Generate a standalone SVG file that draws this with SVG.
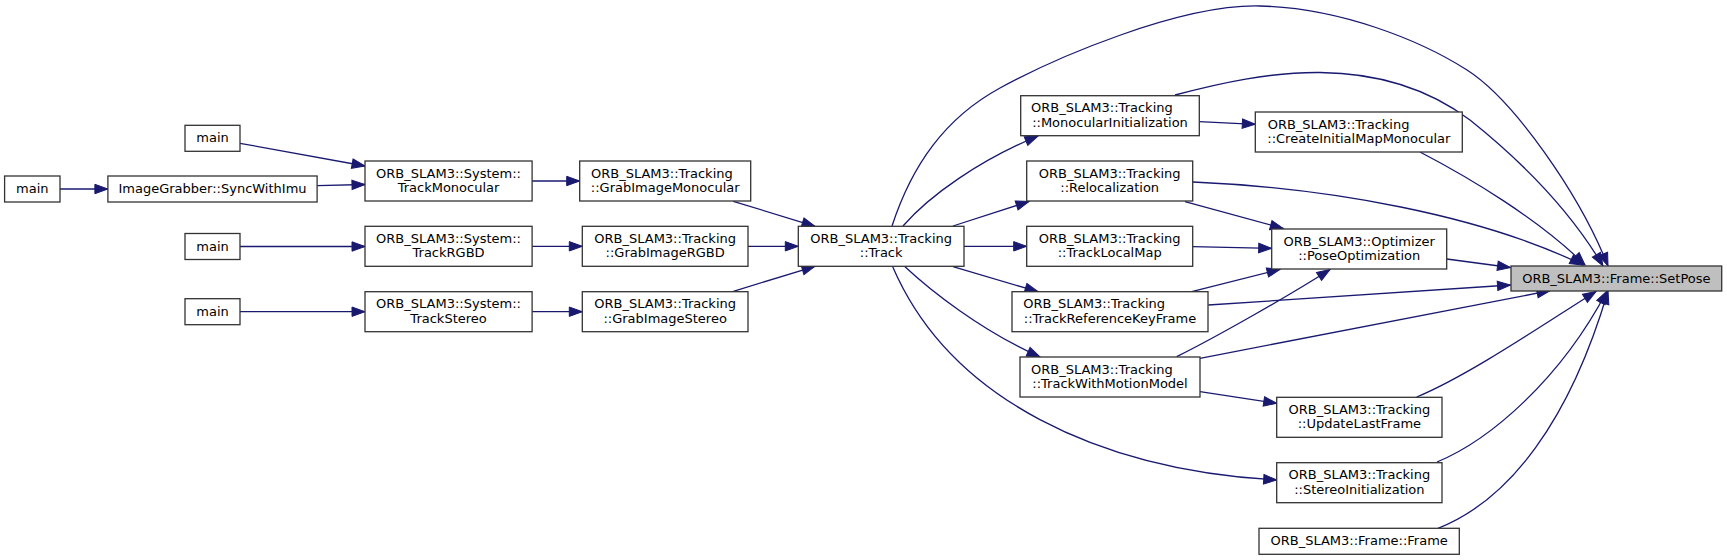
<svg xmlns="http://www.w3.org/2000/svg" width="1727" height="560" viewBox="0 0 1727 560">
<style>
.n rect{fill:#fff;stroke:#333;stroke-width:1.3}
.n.cur rect{fill:#bfbfbf}
text{font-family:"DejaVu Sans",sans-serif;font-size:13px;fill:#000}
.m{text-anchor:middle}
.s{text-anchor:start}
#edges path{fill:none;stroke:#191970;stroke-width:1.3;marker-end:url(#ah)}
</style>
<defs>
<marker id="ah" markerUnits="userSpaceOnUse" markerWidth="16" markerHeight="12" refX="13" refY="4.7" orient="auto" overflow="visible">
<path d="M0,0 L13,4.7 L0,9.4 z" fill="#191970" stroke="#191970" stroke-width="1"/>
</marker>
</defs>
<rect width="1727" height="560" fill="#fff"/>
<g id="edges">
<path d="M60,189 L107.9,189"/>
<path d="M317.1,185.7 L365,184.5"/>
<path d="M240,143.3 L365,166"/>
<path d="M240,246.5 L365,246.5"/>
<path d="M240,311.7 L365,311.7"/>
<path d="M532.1,181 L579.7,181"/>
<path d="M532.1,246.3 L582.3,246.3"/>
<path d="M532.1,311.7 L582.3,311.7"/>
<path d="M733.3,201.3 L815,226.3"/>
<path d="M748,246.3 L798.3,246.3"/>
<path d="M733.3,291.3 L815,266.3"/>
<path d="M892,226 C912,165 945,118 1000,88 S1180,4 1260,6 S1420,40 1467,70 S1580,195 1608,266"/>
<path d="M903,226 C930,195 980,160 1038,136"/>
<path d="M953,226 L1029,201.5"/>
<path d="M964,246.3 L1026.7,246.3"/>
<path d="M953,266.7 L1038,291.7"/>
<path d="M905,266.7 C930,290 980,330 1040,357"/>
<path d="M892.7,266.7 C950,400 1100,470 1276.7,480"/>
<path d="M1175,95 C1220,83 1270,72 1320,72.5 C1380,73 1430,90 1470,120 C1520,160 1570,210 1603,266"/>
<path d="M1199.3,121.7 L1255.3,124.3"/>
<path d="M1420,152 C1470,178 1540,220 1585,265"/>
<path d="M1193,182 C1330,188 1480,215 1583,265"/>
<path d="M1185,201.7 L1283.3,228.5"/>
<path d="M1192.7,246.7 L1271.7,248.3"/>
<path d="M1191.7,291.7 L1280,269.3"/>
<path d="M1208.3,305 L1510.5,285"/>
<path d="M1176.7,356.7 C1220,335 1290,295 1330,269.5"/>
<path d="M1200,358.3 L1550,290.7"/>
<path d="M1200,391.7 L1276.7,403.3"/>
<path d="M1446.7,259 L1510.5,267.5"/>
<path d="M1416.7,397 C1470,375 1550,320 1596,291.5"/>
<path d="M1437,462 C1490,440 1560,380 1607,291"/>
<path d="M1438,528.3 C1510,500 1570,420 1608,291"/>
</g>
<g id="main0" class="n"><rect x="4.6" y="176" width="55.4" height="26"/><text class="m" x="32.3" y="193">main</text></g>
<g id="sync" class="n"><rect x="107.9" y="176" width="209.2" height="26"/><text class="m" x="212.5" y="193">ImageGrabber::SyncWithImu</text></g>
<g id="main1" class="n"><rect x="185" y="125.3" width="55" height="26"/><text class="m" x="212.5" y="142.3">main</text></g>
<g id="main2" class="n"><rect x="185" y="233.5" width="55" height="26"/><text class="m" x="212.5" y="250.5">main</text></g>
<g id="main3" class="n"><rect x="185" y="298.7" width="55" height="26"/><text class="m" x="212.5" y="315.7">main</text></g>
<g id="tmono" class="n"><rect x="365" y="161" width="167.1" height="40"/><text class="m" x="448.55" y="177.5">ORB_SLAM3::System::</text><text class="m" x="448.55" y="191.9">TrackMonocular</text></g>
<g id="trgbd" class="n"><rect x="365" y="226.3" width="167.1" height="40"/><text class="m" x="448.55" y="242.8">ORB_SLAM3::System::</text><text class="m" x="448.55" y="257.2">TrackRGBD</text></g>
<g id="tstereo" class="n"><rect x="365" y="291.7" width="167.1" height="40"/><text class="m" x="448.55" y="308.2">ORB_SLAM3::System::</text><text class="m" x="448.55" y="322.6">TrackStereo</text></g>
<g id="gmono" class="n"><rect x="579.7" y="161" width="171" height="40"/><text class="s" x="591" y="177.5">ORB_SLAM3::Tracking</text><text class="m" x="665.2" y="191.9">::GrabImageMonocular</text></g>
<g id="grgbd" class="n"><rect x="582.3" y="226.3" width="165.7" height="40"/><text class="m" x="665.15" y="242.8">ORB_SLAM3::Tracking</text><text class="m" x="665.15" y="257.2">::GrabImageRGBD</text></g>
<g id="gstereo" class="n"><rect x="582.3" y="291.7" width="165.7" height="40"/><text class="m" x="665.15" y="308.2">ORB_SLAM3::Tracking</text><text class="m" x="665.15" y="322.6">::GrabImageStereo</text></g>
<g id="track" class="n"><rect x="798.3" y="226.3" width="165.7" height="40"/><text class="m" x="881.15" y="242.8">ORB_SLAM3::Tracking</text><text class="m" x="881.15" y="257.2">::Track</text></g>
<g id="monoinit" class="n"><rect x="1020.7" y="95.7" width="178.6" height="40"/><text class="s" x="1031" y="112.2">ORB_SLAM3::Tracking</text><text class="m" x="1110" y="126.6">::MonocularInitialization</text></g>
<g id="reloc" class="n"><rect x="1026.7" y="161" width="166" height="40"/><text class="m" x="1109.7" y="177.5">ORB_SLAM3::Tracking</text><text class="m" x="1109.7" y="191.9">::Relocalization</text></g>
<g id="tlm" class="n"><rect x="1026.7" y="226.3" width="166" height="40"/><text class="m" x="1109.7" y="242.8">ORB_SLAM3::Tracking</text><text class="m" x="1109.7" y="257.2">::TrackLocalMap</text></g>
<g id="trkf" class="n"><rect x="1012" y="291.7" width="196" height="40"/><text class="s" x="1023.3" y="308.2">ORB_SLAM3::Tracking</text><text class="m" x="1110" y="322.6">::TrackReferenceKeyFrame</text></g>
<g id="twmm" class="n"><rect x="1020" y="357" width="180" height="40"/><text class="s" x="1031" y="373.5">ORB_SLAM3::Tracking</text><text class="m" x="1110" y="387.9">::TrackWithMotionModel</text></g>
<g id="cimm" class="n"><rect x="1255.3" y="112" width="207" height="40"/><text class="s" x="1267.7" y="128.5">ORB_SLAM3::Tracking</text><text class="m" x="1358.8" y="142.9">::CreateInitialMapMonocular</text></g>
<g id="poseopt" class="n"><rect x="1271.7" y="229" width="175" height="40"/><text class="m" x="1359.2" y="245.5">ORB_SLAM3::Optimizer</text><text class="m" x="1359.2" y="259.9">::PoseOptimization</text></g>
<g id="ulf" class="n"><rect x="1276.7" y="397.3" width="165.3" height="40"/><text class="m" x="1359.35" y="413.8">ORB_SLAM3::Tracking</text><text class="m" x="1359.35" y="428.2">::UpdateLastFrame</text></g>
<g id="stinit" class="n"><rect x="1276.7" y="462.7" width="165.3" height="40"/><text class="m" x="1359.35" y="479.2">ORB_SLAM3::Tracking</text><text class="m" x="1359.35" y="493.6">::StereoInitialization</text></g>
<g id="frame" class="n"><rect x="1259" y="528.3" width="200.3" height="26"/><text class="m" x="1359.15" y="545.3">ORB_SLAM3::Frame::Frame</text></g>
<g id="setpose" class="n cur"><rect x="1511" y="266" width="210.7" height="25"/><text class="m" x="1616.35" y="282.5">ORB_SLAM3::Frame::SetPose</text></g>
</svg>
